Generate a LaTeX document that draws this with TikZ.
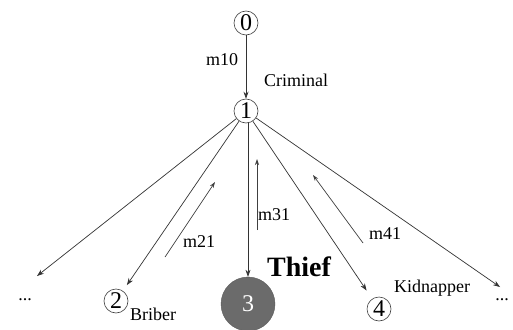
\documentclass[tikz,border=0pt]{standalone}
\usepackage{fontspec}
\setmainfont{Liberation Serif}
\usetikzlibrary{arrows.meta}
\begin{document}
\begin{tikzpicture}[x=1pt,y=-1pt,
  lbl/.style={font=\fontsize{18}{20}\selectfont, inner sep=0pt},
  numnode/.style={circle, draw=black!75, line width=0.6pt, minimum size=24pt, inner sep=0pt, font=\fontsize{24}{25}\selectfont},
  edge/.style={draw=black!80, line width=0.7pt, -{Stealth[length=7pt,width=5pt]}},
  msg/.style={draw=black!75, line width=0.7pt, -{Stealth[length=6pt,width=4pt]}}
]
\useasboundingbox (0,0) rectangle (513,329);
\fill[white] (0,0) rectangle (513,329);

\node[numnode] (n0) at (246,23) {0};
\node[numnode] (n1) at (246,111) {1};
\node[numnode] (n2) at (116,301) {2};
\node[numnode] (n4) at (379,309) {4};
\node[circle, fill=black!58, draw=black!65, minimum size=54pt, inner sep=0pt, text=white, font=\fontsize{24}{25}\selectfont] (n3) at (248,304) {3};

\coordinate (ldots) at (37,276);
\coordinate (rdots) at (500,287);

\draw[edge] (n0) -- (n1);
\draw[edge] (n1) -- (ldots);
\draw[edge, shorten >=7pt] (n1) -- (n2);
\draw[edge] (n1.south -| n3) -- (n3);
\draw[edge, shorten >=10pt] (n1) -- (n4);
\draw[edge] (n1) -- (rdots);

\coordinate (m21a) at (165,257);
\coordinate (m21b) at (215,182);
\coordinate (m31a) at (257,230);
\coordinate (m31b) at (257,159);
\coordinate (m41a) at (363,243);
\coordinate (m41b) at (313,175);
\draw[msg] (m21a) -- (m21b);
\draw[msg] (m31a) -- (m31b);
\draw[msg] (m41a) -- (m41b);

\node[lbl] (tm10) at (222,60) {m10};
\node[lbl] (tcrim) at (296,80) {Criminal};
\node[lbl] (tm21) at (199,242) {m21};
\node[lbl] (tm31) at (274,215) {m31};
\node[lbl] (tm41) at (385,234) {m41};
\node[font=\fontsize{28}{30}\selectfont\bfseries, inner sep=0pt] (tthief) at (299,267) {Thief};
\node[lbl, anchor=base] (tbrib) at (153,320) {Briber};
\node[lbl, anchor=base] (tkid) at (432,292) {Kidnapper};
\node[lbl] (dl) at (25,300) {...};
\node[lbl] (dr) at (502,300) {...};
\end{tikzpicture}
\end{document}
